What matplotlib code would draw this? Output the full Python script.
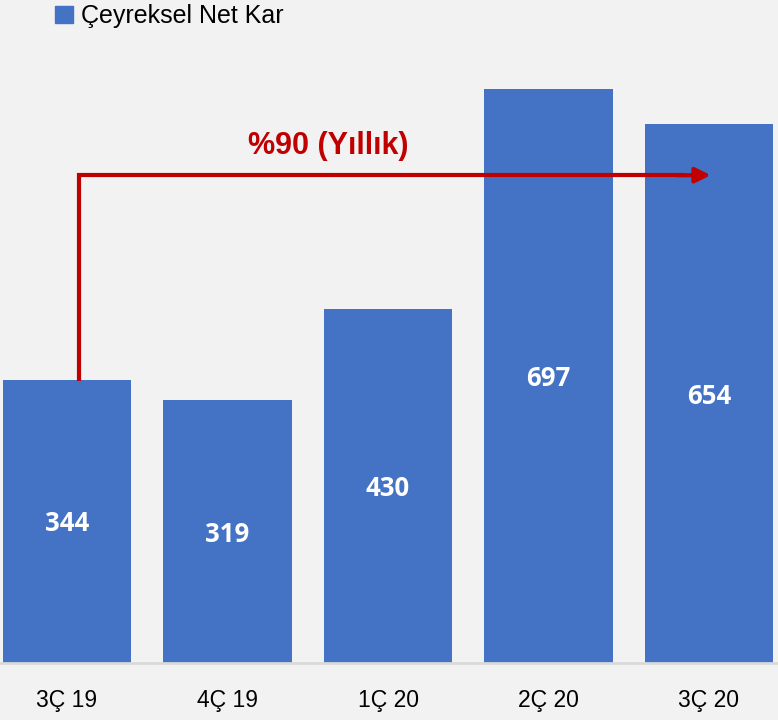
import matplotlib
matplotlib.use("Agg")
import matplotlib.pyplot as plt
from matplotlib.patches import Patch

categories = ["3Ç 19", "4Ç 19", "1Ç 20", "2Ç 20", "3Ç 20"]
net_kar = [344, 319, 430, 697, 654]
series_name = "Çeyreksel Net Kar"
growth_label = "%90 (Yıllık)"

BG = "#F2F2F2"
BAR = "#4472C4"
RED = "#C00000"
FONT = ["Liberation Sans", "DejaVu Sans"]

plt.rcParams["font.family"] = FONT

fig = plt.figure(figsize=(7.78, 7.2), dpi=100, facecolor=BG)
ax = fig.add_axes([0, 57 / 720, 1, (663 - 40) / 720])
ax.set_facecolor(BG)

x = list(range(len(categories)))
bars = ax.bar(x, net_kar, width=0.8, color=BAR, zorder=2)

# value labels in the middle of each bar
for xi, v in zip(x, net_kar):
    ax.text(xi, v / 2 - 3, str(v), ha="center", va="center", color="white",
            fontsize=18.5, fontweight="bold", family=["Open Sans", "DejaVu Sans"])

ax.set_xlim(-67 / 160.5, 4 + (778 - 709) / 160.5)
ax.set_ylim(0, (663 - 40) / 0.824)

ax.set_xticks(x)
ax.set_xticklabels(categories, fontsize=16.5)
ax.tick_params(axis="x", length=0, pad=19)
ax.set_yticks([])
for s in ["top", "right", "left"]:
    ax.spines[s].set_visible(False)
ax.spines["bottom"].set_color("#D9D9D9")
ax.spines["bottom"].set_linewidth(2)

# growth arrow from first bar to last bar
x0 = 0.075
y_arrow = 592
ax.plot([x0, x0, 3.85], [net_kar[0] - 2, y_arrow, y_arrow], color=RED, lw=3,
        solid_joinstyle="miter", solid_capstyle="butt", zorder=3)
ax.annotate("", xy=(4.01, y_arrow), xytext=(3.8, y_arrow),
            arrowprops=dict(arrowstyle="-|>,head_length=0.9,head_width=0.45",
                            color=RED, lw=3, shrinkA=0, shrinkB=0), zorder=3)
ax.text(1.63, 627, growth_label, ha="center", va="center", color=RED,
        fontsize=22, fontweight="bold")

fig.legend(handles=[Patch(color=BAR)], labels=[series_name],
           loc="upper left", bbox_to_anchor=(0.058, 1.008), frameon=False,
           fontsize=18, handlelength=0.7, handleheight=0.7,
           handletextpad=0.35, borderaxespad=0)

fig.savefig("out.png", dpi=100, facecolor=BG)
